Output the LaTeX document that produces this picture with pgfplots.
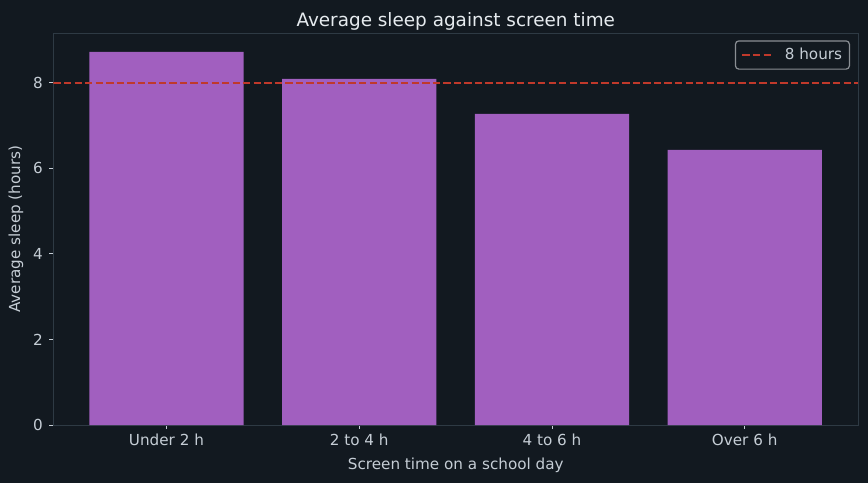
\documentclass[border=0pt]{standalone}
\usepackage{pgfplots}
\pgfplotsset{compat=1.18}
\usepackage{fontspec}
\setmainfont{DejaVu Sans}
\definecolor{bg}{HTML}{121920}
\definecolor{barc}{HTML}{A15FBF}
\definecolor{refc}{HTML}{C0392B}
\definecolor{spine}{HTML}{2E3A44}
\definecolor{txt}{HTML}{C5CDD5}
\definecolor{ttl}{HTML}{E6EBEF}
\definecolor{legedge}{HTML}{8A8F94}
\begin{document}
\begin{tikzpicture}
\fill[bg] (0,0) rectangle (651pt,362.25pt);
\begin{axis}[
  at={(40.125pt,43.5pt)}, anchor=south west,
  scale only axis, width=603.4pt, height=293.8pt,
  xmin=-0.586, xmax=3.588, ymin=0, ymax=9.154,
  xtick={0,1,2,3},
  xticklabels={Under 2 h,2 to 4 h,4 to 6 h,Over 6 h},
  ytick={0,2,4,6,8},
  axis line style={spine},
  tick style={txt, line width=0.6pt},
  tick align=outside, major tick length=3pt,
  xtick pos=bottom, ytick pos=left,
  ticklabel style={font=\fontsize{11.4}{13}\selectfont, text=txt},
  yticklabel style={xshift=-1.5pt},
  /pgf/number format/assume math mode=true,
  xlabel={Screen time on a school day},
  ylabel={Average sleep (hours)},
  label style={font=\fontsize{11.4}{13}\selectfont, text=txt},
  xlabel style={yshift=-2.5pt},
  ylabel style={yshift=0.5pt},
  title={Average sleep against screen time},
  title style={font=\fontsize{13.8}{16}\selectfont, text=ttl, yshift=-7pt},
  legend style={at={(0.99,0.982)}, anchor=north east, fill=bg, draw=legedge,
    rounded corners=2.5pt, line width=0.9pt, text=txt, font=\fontsize{11.4}{13}\selectfont,
    inner sep=3.5pt},
  legend image code/.code={\draw[#1, line width=1.5pt] (0pt,0pt) -- (22pt,0pt);
    \path (-1pt,0pt) (29pt,0pt);},
  legend cell align=left,
]
\addplot[ybar, bar width=0.8, fill=barc, draw=none, bar shift=0pt, forget plot]
  coordinates {(0,8.72) (1,8.09) (2,7.27) (3,6.43)};
\addplot[refc, line width=1.5pt, dash pattern=on 5.5pt off 2.4pt]
  coordinates {(-0.586,8) (3.588,8)};
\addlegendentry{8 hours}
\end{axis}
\end{tikzpicture}
\end{document}
